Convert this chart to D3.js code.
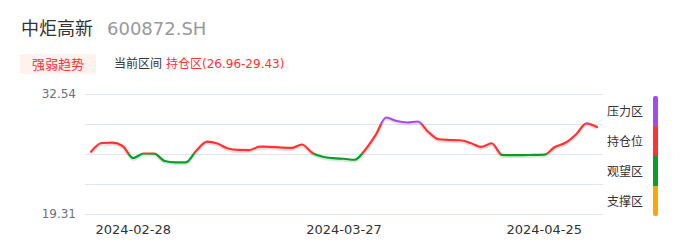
<!DOCTYPE html>
<html>
<head>
<meta charset="utf-8">
<title>中炬高新 强弱趋势</title>
<script src="https://d3js.org/d3.v7.min.js"></script>
<style>
  body { margin: 0; background: #fff; }
  svg text { font-family: "DejaVu Sans", "Noto Sans CJK SC", sans-serif; }
</style>
</head>
<body>
<script>
// trading days and closing values
const dates = [
  "2024-02-22","2024-02-23","2024-02-26","2024-02-27","2024-02-28","2024-02-29","2024-03-01",
  "2024-03-04","2024-03-05","2024-03-06","2024-03-07","2024-03-08",
  "2024-03-11","2024-03-12","2024-03-13","2024-03-14","2024-03-15",
  "2024-03-18","2024-03-19","2024-03-20","2024-03-21","2024-03-22",
  "2024-03-25","2024-03-26","2024-03-27","2024-03-28","2024-03-29",
  "2024-04-01","2024-04-02","2024-04-03",
  "2024-04-08","2024-04-09","2024-04-10","2024-04-11","2024-04-12",
  "2024-04-15","2024-04-16","2024-04-17","2024-04-18","2024-04-19",
  "2024-04-22","2024-04-23","2024-04-24","2024-04-25","2024-04-26",
  "2024-04-29","2024-04-30","2024-05-06","2024-05-07"
]
const values = [
  26.18, 27.14, 27.17, 26.81, 25.48, 25.98, 25.96,
  25.15, 25.01, 25.00, 26.31, 27.30,
  27.08, 26.53, 26.37, 26.36, 26.73,
  26.72, 26.64, 26.59, 26.97, 26.04,
  25.62, 25.46, 25.40, 25.29, 26.37,
  28.02, 29.95, 29.56,
  29.40, 29.51, 28.35, 27.55, 27.47,
  27.44, 27.14, 26.70, 27.11, 25.82,
  25.79, 25.80, 25.83, 25.85, 26.70,
  27.16, 28.08, 29.31, 28.90
]
const xTickLabels = ["2024-02-28", "2024-03-27", "2024-04-25"]
const yRange = [19.31, 32.54]

// zones, top to bottom
const zoneNames = ["压力区", "持仓位", "观望区", "支撑区"]
const zoneColors = ["#a24cf0", "#ff3333", "#0d9c2a", "#ffa500"]
const zoneBreaks = [29.2, 25.9]   // purple above first, green below second

const title = "中炬高新"
const code = "600872.SH"
const badge = "强弱趋势"
const rangeLabel = "当前区间"
const rangeValue = "持仓区(26.96-29.43)"

const width = 686, height = 247
const margin = {top: 94, right: 83, bottom: 33, left: 85}

const svg = d3.select("body").append("svg")
    .attr("width", width)
    .attr("height", height)

// header
svg.append("text").attr("x", 21).attr("y", 35)
    .attr("font-size", 18).attr("fill", "#333").text(title)
svg.append("text").attr("x", 107).attr("y", 35)
    .attr("font-size", 18).attr("fill", "#999").text(code)

svg.append("rect").attr("x", 20).attr("y", 54).attr("width", 76).attr("height", 20)
    .attr("fill", "#fff1ee")
svg.append("text").attr("x", 58).attr("y", 68.5).attr("text-anchor", "middle")
    .attr("font-size", 13).attr("fill", "#ff3333").text(badge)
svg.append("text").attr("x", 114).attr("y", 68)
    .attr("font-size", 12).attr("fill", "#333").text(rangeLabel)
svg.append("text").attr("x", 166).attr("y", 68)
    .attr("font-size", 12).attr("fill", "#ff3333").text(rangeValue)

// scales
const x = d3.scalePoint()
    .domain(dates)
    .range([91, 597])

const y = d3.scaleLinear()
    .domain(yRange)
    .range([height - margin.bottom, margin.top])

// grid
const gridVals = d3.range(5).map(i => yRange[0] + i * (yRange[1] - yRange[0]) / 4)
svg.append("g")
  .selectAll("line")
  .data(gridVals)
  .join("line")
    .attr("x1", margin.left)
    .attr("x2", width - margin.right)
    .attr("y1", d => Math.round(y(d)) + 0.5)
    .attr("y2", d => Math.round(y(d)) + 0.5)
    .attr("stroke", "#e0e6f1")

// y labels only for min / max
svg.append("g")
  .selectAll("text")
  .data(yRange)
  .join("text")
    .attr("x", 76)
    .attr("y", d => y(d))
    .attr("dy", "0.35em")
    .attr("text-anchor", "end")
    .attr("font-size", 12)
    .attr("fill", "#6e7079")
    .text(d => d3.format(".2f")(d))

// x labels
svg.append("g")
  .selectAll("text")
  .data(xTickLabels)
  .join("text")
    .attr("x", d => x(d))
    .attr("y", 229)
    .attr("dy", "0.35em")
    .attr("text-anchor", "middle")
    .attr("font-size", 13)
    .attr("fill", "#333")
    .text(d => d)

// vertical gradient, colour by value zone
const defs = svg.append("defs")
const grad = defs.append("linearGradient")
    .attr("id", "zoneGrad")
    .attr("gradientUnits", "userSpaceOnUse")
    .attr("x1", 0).attr("x2", 0)
    .attr("y1", y(yRange[1])).attr("y2", y(yRange[0]))

const frac = v => (yRange[1] - v) / (yRange[1] - yRange[0])
const stops = [
  [0, zoneColors[0]], [frac(zoneBreaks[0]), zoneColors[0]],
  [frac(zoneBreaks[0]), zoneColors[1]], [frac(zoneBreaks[1]), zoneColors[1]],
  [frac(zoneBreaks[1]), zoneColors[2]], [1, zoneColors[2]]
]
grad.selectAll("stop")
  .data(stops)
  .join("stop")
    .attr("offset", d => d[0])
    .attr("stop-color", d => d[1])

const line = d3.line()
    .x((d, i) => x(dates[i]))
    .y(d => y(d))
    .curve(d3.curveMonotoneX)

// soft shadow under the line
svg.append("path")
    .datum(values)
    .attr("d", line)
    .attr("transform", "translate(0,1.5)")
    .attr("fill", "none")
    .attr("stroke", "url(#zoneGrad)")
    .attr("stroke-width", 3)
    .attr("stroke-opacity", 0.18)

svg.append("path")
    .datum(values)
    .attr("d", line)
    .attr("fill", "none")
    .attr("stroke", "url(#zoneGrad)")
    .attr("stroke-width", 2.2)
    .attr("stroke-linejoin", "round")
    .attr("stroke-linecap", "round")

// legend
const legendY = d3.scaleBand()
    .domain(zoneNames)
    .range([96, 216])

svg.append("g")
  .selectAll("text")
  .data(zoneNames)
  .join("text")
    .attr("x", 607)
    .attr("y", d => legendY(d) + legendY.bandwidth() / 2 + 1)
    .attr("dy", "0.35em")
    .attr("font-size", 12)
    .attr("fill", "#333")
    .text(d => d)

const bar = svg.append("g")
bar.append("clipPath").attr("id", "barClip")
  .append("rect")
    .attr("x", 653).attr("y", 96)
    .attr("width", 5).attr("height", 120)
    .attr("rx", 2)
bar.append("g").attr("clip-path", "url(#barClip)")
  .selectAll("rect")
  .data(zoneNames)
  .join("rect")
    .attr("x", 653)
    .attr("y", d => legendY(d))
    .attr("width", 5)
    .attr("height", legendY.bandwidth())
    .attr("fill", (d, i) => zoneColors[i] === "#ffa500" ? "#ffa500" : zoneColors[i])
</script>
</body>
</html>
